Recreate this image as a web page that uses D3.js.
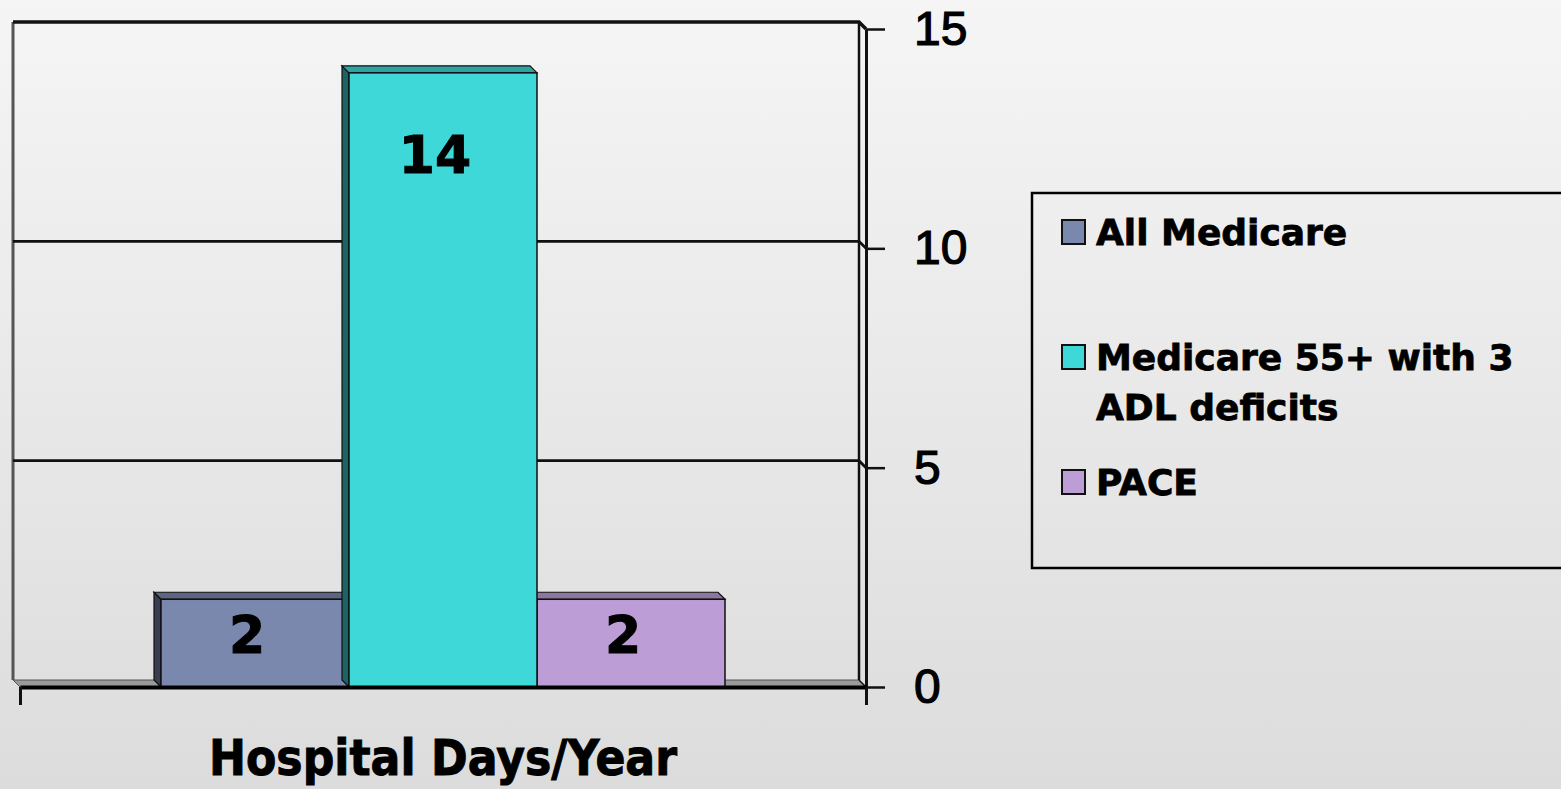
<!DOCTYPE html>
<html>
<head>
<meta charset="utf-8">
<script src="https://cdn.jsdelivr.net/npm/d3@7"></script>
<style>
  body { margin: 0; overflow: hidden; }
</style>
</head>
<body>
<div class="chart"></div>
<script>
const categories = ["Hospital Days/Year"]
const series = ["All Medicare", "Medicare 55+ with 3 ADL deficits", "PACE"]
const values = [2, 14, 2]
const yTicks = [0, 5, 10, 15]

const colors = ["#7b88ad", "#3fd8d8", "#bd9dd6"]
const width = 1561, height = 789
const depth = 7
const boldFont = "'DejaVu Sans', Verdana, sans-serif"

const svg = d3.select('.chart').append('svg')
    .attr("width", width)
    .attr("height", height)

// background
const grad = svg.append("defs").append("linearGradient")
    .attr("id", "bg").attr("x1", 0).attr("y1", 0).attr("x2", 0).attr("y2", 1)
grad.append("stop").attr("offset", "0%").attr("stop-color", "#f5f5f5")
grad.append("stop").attr("offset", "100%").attr("stop-color", "#dcdcdc")
svg.append("rect").attr("width", width).attr("height", height).attr("fill", "url(#bg)")

const x0 = d3.scaleBand()
    .domain(categories)
    .range([20, 866])

const x1 = d3.scaleBand()
    .domain(series)
    .range([0, x0.bandwidth()])
    .paddingInner(0)
    .paddingOuter(0.75)

const yScale = d3.scaleLinear()
    .domain([0, 15])
    .range([687, 29])

const xLeft = x0.range()[0], xRight = x0.range()[1]
const yBase = yScale(0), yTop = yScale(15)

// back wall, floor
const walls = svg.append("g")
walls.append("polygon")
    .attr("points", [[xLeft - depth, yBase - depth], [xRight - depth, yBase - depth], [xRight, yBase], [xLeft, yBase]].join(" "))
    .attr("fill", "#9a9a9a").attr("stroke", "#555").attr("stroke-width", 1)
walls.append("line")
    .attr("x1", xLeft - depth).attr("x2", xLeft - depth)
    .attr("y1", yTop - depth).attr("y2", yBase - depth)
    .attr("stroke", "#555").attr("stroke-width", 3)
walls.append("line")
    .attr("x1", xRight - depth).attr("x2", xRight - depth)
    .attr("y1", yTop - depth).attr("y2", yBase - depth)
    .attr("stroke", "#111").attr("stroke-width", 2.5)
walls.append("line")
    .attr("x1", xRight - depth).attr("x2", xRight)
    .attr("y1", yBase - depth).attr("y2", yBase)
    .attr("stroke", "#111").attr("stroke-width", 1.5)

// gridlines on the back wall
walls.selectAll(".grid")
    .data(yTicks.filter(d => d > 0))
    .enter()
    .append("path")
    .attr("class", "grid")
    .attr("d", d => `M${xLeft - depth},${yScale(d) - depth}H${xRight - depth}L${xRight},${yScale(d)}`)
    .attr("fill", "none")
    .attr("stroke", "#111")
    .attr("stroke-width", d => d === 15 ? 3.5 : 2.8)

// bars, smallest first so the tall one overlaps
const data = series.map((s, i) => ({name: s, value: values[i], color: colors[i], cat: categories[0]}))
const order = data.slice().sort((a, b) => a.value - b.value)

const bars = svg.append("g")
order.forEach(d => {
    const bx = x0(d.cat) + x1(d.name)
    const bw = x1.bandwidth()
    const by = yScale(d.value)
    const c = d3.color(d.color)
    bars.append("polygon")
        .attr("points", [[bx, by], [bx - depth, by - depth], [bx - depth, yBase - depth], [bx, yBase]].join(" "))
        .attr("fill", c.darker(2.2)).attr("stroke", "#111").attr("stroke-width", 1.2)
    bars.append("polygon")
        .attr("points", [[bx, by], [bx - depth, by - depth], [bx + bw - depth, by - depth], [bx + bw, by]].join(" "))
        .attr("fill", c.darker(0.8)).attr("stroke", "#111").attr("stroke-width", 1.2)
    bars.append("rect")
        .attr("x", bx).attr("y", by)
        .attr("width", bw).attr("height", yBase - by)
        .attr("fill", d.color).attr("stroke", "#111").attr("stroke-width", 1.5)
})

// value labels
svg.selectAll(".val")
    .data(data)
    .enter()
    .append("text")
    .attr("class", "val")
    .attr("x", d => x0(d.cat) + x1(d.name) + x1.bandwidth() / 2 - 8)
    .attr("y", d => Math.min(yScale(d.value) + 100, (yScale(d.value) + yBase) / 2 + 10))
    .attr("text-anchor", "middle")
    .attr("stroke", "#000").attr("stroke-width", 1)
    .style("font-family", boldFont)
    .style("font-weight", "bold")
    .style("font-size", "52px")
    .text(d => d.value)

// y axis on the right
const yAxis = d3.axisRight(yScale)
    .tickValues(yTicks)
    .tickSize(19)
    .tickSizeOuter(0)
    .tickPadding(29)

const gy = svg.append("g")
    .attr("transform", `translate(${xRight},0)`)
    .call(yAxis)
gy.select(".domain").attr("stroke", "#111").attr("stroke-width", 3)
gy.selectAll(".tick line").attr("stroke", "#111").attr("stroke-width", 2.5)
gy.selectAll(".tick text")
    .style("font-family", "'Liberation Sans', Arial, sans-serif")
    .style("font-size", "48px")
    .attr("fill", "#000")
    .attr("stroke", "#000").attr("stroke-width", 1.2)

// x axis: category boundaries
const xEdge = d3.scaleLinear().domain([0, categories.length]).range([xLeft, xRight])
const xAxis = d3.axisBottom(xEdge)
    .tickValues(d3.range(0, categories.length + 1))
    .tickSize(18)
    .tickSizeOuter(0)
    .tickFormat("")
const gx = svg.append("g")
    .attr("transform", `translate(0,${yBase})`)
    .call(xAxis)
gx.select(".domain").attr("stroke", "#000").attr("stroke-width", 4)
gx.selectAll(".tick line").attr("stroke", "#111").attr("stroke-width", 3)

svg.selectAll(".cat")
    .data(categories)
    .enter()
    .append("text")
    .attr("class", "cat")
    .attr("x", d => x0(d) + x0.bandwidth() / 2)
    .attr("y", 775)
    .attr("text-anchor", "middle")
    .attr("textLength", 468)
    .attr("lengthAdjust", "spacingAndGlyphs")
    .attr("stroke", "#000").attr("stroke-width", 1)
    .style("font-family", boldFont)
    .style("font-weight", "bold")
    .style("font-size", "50px")
    .text(d => d)

// legend
const legend = svg.append("g")
legend.append("rect")
    .attr("x", 1032).attr("y", 193)
    .attr("width", 600).attr("height", 375)
    .attr("fill", "none").attr("stroke", "#000").attr("stroke-width", 2.5)

const items = legend.selectAll(".item")
    .data(data)
    .enter()
    .append("g")
    .attr("class", "item")
    .attr("transform", (d, i) => `translate(1062,${245 + i * 125})`)

items.append("rect")
    .attr("x", 0).attr("y", -25)
    .attr("width", 23).attr("height", 24)
    .attr("fill", d => d.color)
    .attr("stroke", "#111").attr("stroke-width", 2)

items.append("text")
    .attr("x", 34)
    .attr("stroke", "#000").attr("stroke-width", 0.8)
    .style("font-family", boldFont)
    .style("font-weight", "bold")
    .style("font-size", "36px")
    .each(function(d) {
        const t = d3.select(this)
        const words = d.name.split(" ")
        let line = []
        let tspan = t.append("tspan").attr("x", 34).attr("dy", 0)
        words.forEach(w => {
            line.push(w)
            tspan.text(line.join(" "))
            if (tspan.node().getComputedTextLength() > 450 && line.length > 1) {
                line.pop()
                tspan.text(line.join(" "))
                line = [w]
                tspan = t.append("tspan").attr("x", 34).attr("dy", 50).text(w)
            }
        })
    })
</script>
</body>
</html>
